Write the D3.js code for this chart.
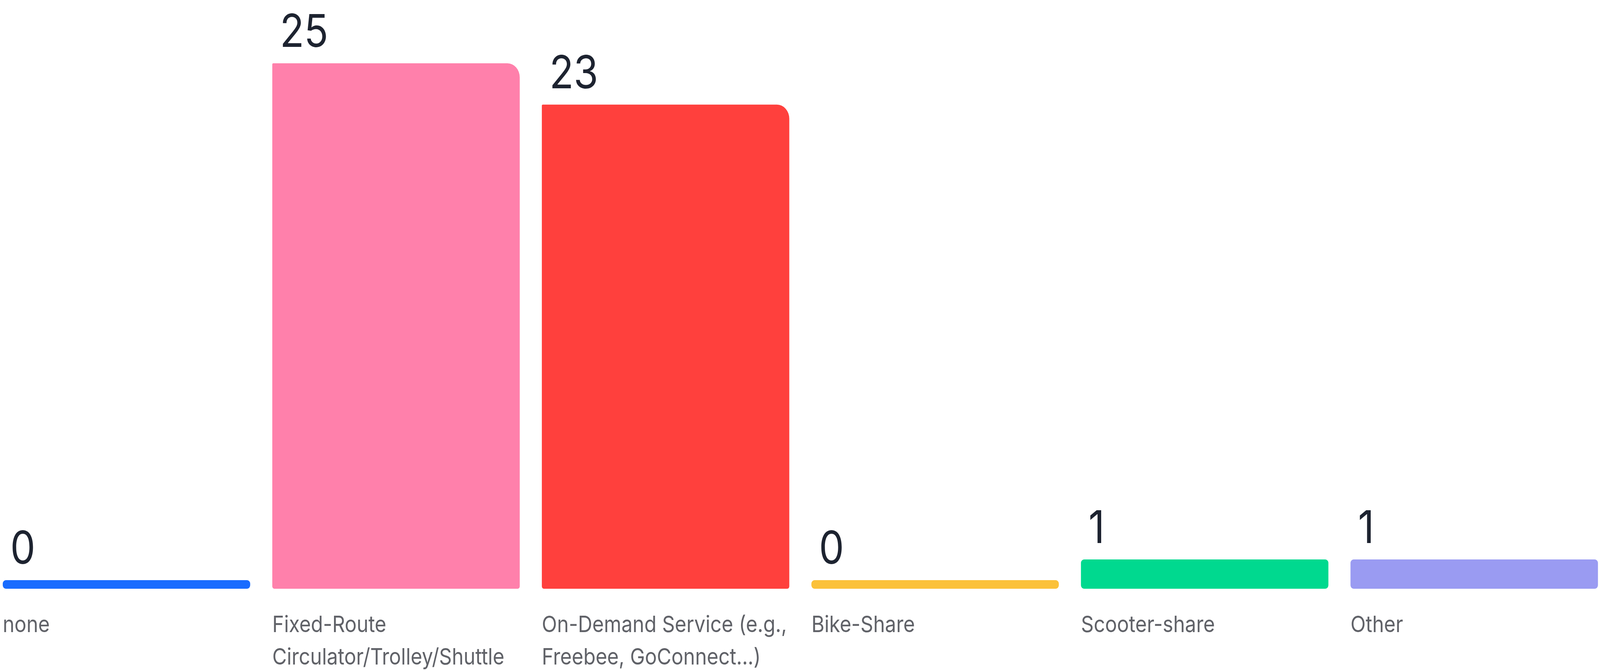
<!DOCTYPE html>
<html>
<head>
<meta charset="utf-8">
<script src="https://cdn.jsdelivr.net/npm/d3@7"></script>
<style>
  html, body { margin: 0; padding: 0; background: #ffffff; overflow: hidden; }
  #chart svg { display: block; }
</style>
</head>
<body>
<div id="chart"></div>
<script>
// chart values ("\n" marks where the label wraps)
var categories = ["none", "Fixed-Route\nCirculator/Trolley/Shuttle", "On-Demand Service (e.g.,\nFreebee, GoConnect...)",
                  "Bike-Share", "Scooter-share", "Other"];
var counts = [0, 25, 23, 0, 1, 1];
var colors = ["#196cff", "#ff80ab", "#ff403d", "#fbc13a", "#00d98f", "#9a9bf2"];

var width = 4662;
var height = 1715;
var margin = {top: 162, left: 8, right: 6};
var baseline = 1507;   // bottom edge of bars
var minBar = 22;       // zero-valued bars still drawn as a thin strip

// draw in 4662x1715 units, stretched to whatever the window really is
var svg = d3.select("#chart")
    .append("svg")
    .attr("viewBox", "0 0 " + width + " " + height)
    .attr("preserveAspectRatio", "none")
    .style("width", "100vw")
    .style("height", "100vh");

var x = d3.scaleBand()
    .domain(categories)
    .range([margin.left, width - margin.right])
    .paddingInner(0.082)
    .paddingOuter(0);

var y = d3.scaleLinear()
    .domain([0, d3.max(counts)])
    .range([baseline - minBar, margin.top]);

var data = categories.map(function (c, i) {
    return {label: c, value: counts[i], color: colors[i]};
});

// bar shape: big rounding on top-right, small elsewhere
function barPath(x0, y0, w, h) {
    var rTR = h > 200 ? 36 : Math.min(h / 2, 9);
    var r = Math.min(h / 2, h > 200 ? 6 : 9);
    var rTL = h > 200 ? 3 : r;
    var p = d3.path();
    p.moveTo(x0 + rTL, y0);
    p.lineTo(x0 + w - rTR, y0);
    p.arcTo(x0 + w, y0, x0 + w, y0 + rTR, rTR);
    p.lineTo(x0 + w, y0 + h - r);
    p.arcTo(x0 + w, y0 + h, x0 + w - r, y0 + h, r);
    p.lineTo(x0 + r, y0 + h);
    p.arcTo(x0, y0 + h, x0, y0 + h - r, r);
    p.lineTo(x0, y0 + rTL);
    p.arcTo(x0, y0, x0 + rTL, y0, rTL);
    p.closePath();
    return p.toString();
}

svg.append("g")
    .selectAll("path")
    .data(data)
    .enter().append("path")
    .attr("fill", d => d.color)
    .attr("d", function (d) {
        var top = y(d.value);
        return barPath(x(d.label), top, x.bandwidth(), baseline - top);
    });

// value labels above bars
svg.append("g")
    .selectAll("text")
    .data(data)
    .enter().append("text")
    .attr("x", d => x(d.label) + 22)
    .attr("y", d => y(d.value) - 42)
    .attr("fill", "#1d2330")
    .style("font-family", "Inter, 'Noto Sans', sans-serif")
    .style("font-size", "116px")
    .text(d => d.value);

// category labels under the bars
var labels = svg.append("g")
    .selectAll("text")
    .data(data)
    .enter().append("text")
    .attr("y", 1618)
    .attr("fill", "#606268")
    .style("font-family", "Inter, 'Noto Sans', sans-serif")
    .style("font-size", "58px");

labels.selectAll("tspan")
    .data(d => d.label.split("\n").map(t => ({text: t, x: x(d.label)})))
    .enter().append("tspan")
    .attr("x", d => d.x)
    .attr("dy", (d, i) => i === 0 ? 0 : 83)
    .text(d => d.text);
</script>
</body>
</html>
